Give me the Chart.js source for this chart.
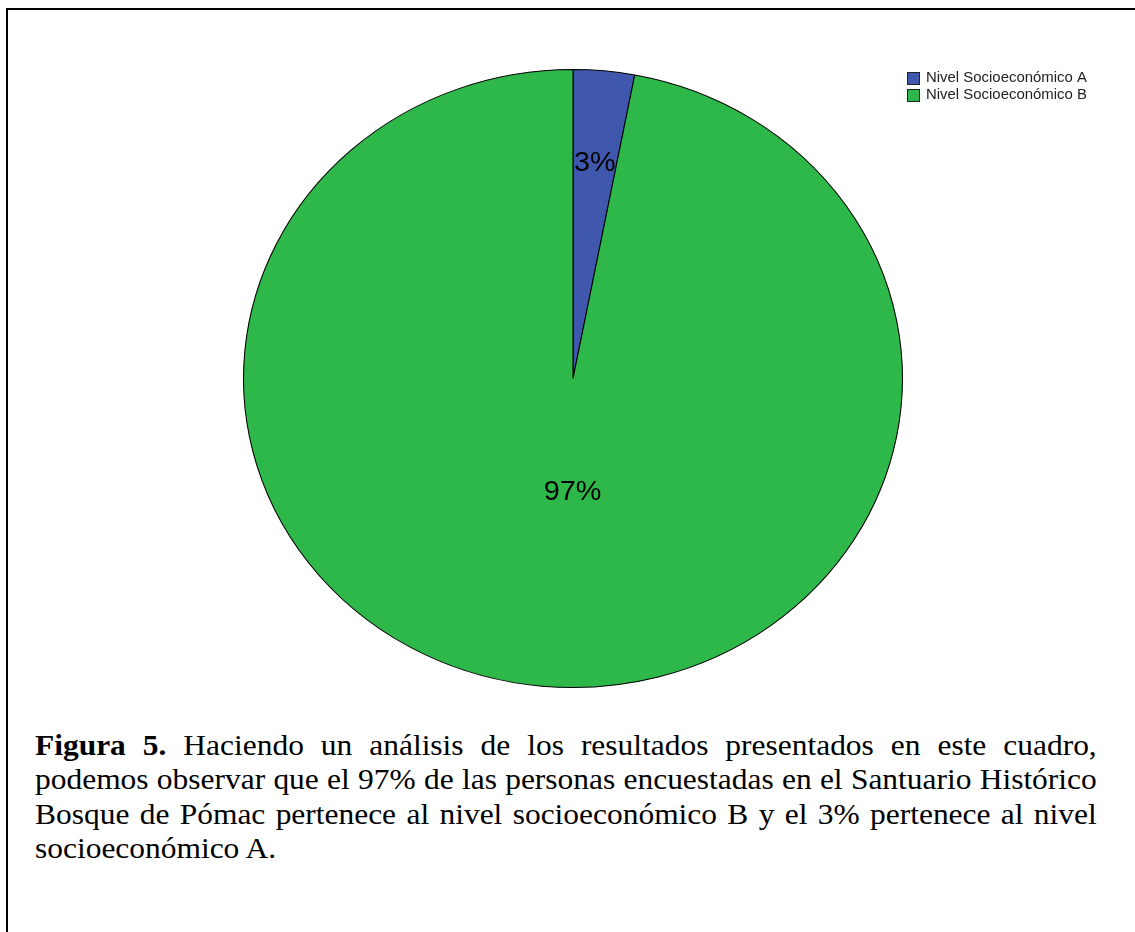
<!DOCTYPE html>
<html>
<head>
<meta charset="utf-8">
<script src="https://cdn.jsdelivr.net/npm/chart.js@4.4.1/dist/chart.umd.min.js"></script>
<style>
  html, body { margin: 0; padding: 0; background: #fff; }
  body { width: 1135px; height: 932px; position: relative; overflow: hidden; }
  #frame { position: absolute; left: 6px; top: 8px; width: 1200px; height: 1000px;
           border-left: 2px solid #000; border-top: 2px solid #000; box-sizing: border-box; }
  #wrap { position: absolute; left: 0; top: 0; width: 1135px; height: 700px; }
  #caption { position: absolute; left: 35px; top: 728px; width: 996px;
             transform: scaleX(1.066); transform-origin: 0 0;
             font-family: "Liberation Serif", "Times New Roman", serif; font-size: 29.5px;
             line-height: 34.3px; color: #000; }
  #caption div { white-space: nowrap; }
  #caption .j { text-align: justify; text-align-last: justify; }
</style>
</head>
<body>
<div id="frame"></div>
<div id="wrap"><canvas id="c"></canvas></div>
<div id="caption">
  <div class="j"><b>Figura 5.</b> Haciendo un análisis de los resultados presentados en este cuadro,</div>
  <div class="j">podemos observar que el 97% de las personas encuestadas en el Santuario Histórico</div>
  <div class="j">Bosque de Pómac pertenece al nivel socioeconómico B y el 3% pertenece al nivel</div>
  <div>socioeconómico A.</div>
</div>
<script>
const categories = ["Nivel Socioeconómico A", "Nivel Socioeconómico B"];
const percentages = [3, 97];
const sliceColors = ["#3f58ad", "#2fb84a"];

const STRETCH_X = 330 / 309.5;

const ellipsePlugin = {
  id: 'ellipse',
  beforeDatasetsDraw(chart) {
    const a = chart.getDatasetMeta(0).data[0];
    const ctx = chart.ctx;
    ctx.save();
    ctx.translate(a.x, a.y);
    ctx.scale(STRETCH_X, 1);
    ctx.translate(-a.x, -a.y);
  },
  afterDatasetsDraw(chart) {
    const ctx = chart.ctx;
    ctx.restore();
    // percentage labels
    const meta = chart.getDatasetMeta(0);
    meta.data.forEach((arc, i) => {
      const mid = (arc.startAngle + arc.endAngle) / 2;
      const rf = i === 0 ? 0.70 : 0.37;
      const r = arc.outerRadius * rf;
      const x = arc.x + Math.cos(mid) * r * STRETCH_X + (i === 0 ? 0 : 11);
      const y = arc.y + Math.sin(mid) * r;
      ctx.save();
      ctx.translate(x, y);
      ctx.scale(STRETCH_X, 1);
      ctx.fillStyle = '#000';
      ctx.font = '27px "Liberation Sans", Arial, sans-serif';
      ctx.textAlign = 'center';
      ctx.textBaseline = 'middle';
      ctx.fillText(percentages[i] + '%', 0, 0);
      ctx.restore();
    });
  },
  afterDraw(chart) {
    const ctx = chart.ctx;
    categories.forEach((lab, i) => {
      const y = 78.5 + i * 17;
      ctx.save();
      ctx.fillStyle = sliceColors[i];
      ctx.fillRect(907.5, y - 6, 12, 12);
      ctx.strokeStyle = '#222';
      ctx.lineWidth = 1;
      ctx.strokeRect(907.5, y - 6, 12, 12);
      ctx.translate(926, y);
      ctx.scale(STRETCH_X, 1);
      ctx.font = '14px "Liberation Sans", Arial, sans-serif';
      ctx.textBaseline = 'middle';
      ctx.textAlign = 'left';
      ctx.fillStyle = '#222';
      ctx.fillText(lab, 0, 0);
      ctx.restore();
    });
  }
};

new Chart(document.getElementById('c'), {
  type: 'pie',
  data: {
    labels: categories,
    datasets: [{
      data: percentages,
      backgroundColor: sliceColors,
      borderColor: '#000',
      borderWidth: 1
    }]
  },
  options: {
    responsive: true,
    maintainAspectRatio: false,
    animation: false,
    rotation: 0,
    layout: { padding: { left: 263.5, right: 252.5, top: 69, bottom: 12 } },
    plugins: { legend: { display: false }, tooltip: { enabled: false } }
  },
  plugins: [ellipsePlugin]
});
</script>
</body>
</html>
